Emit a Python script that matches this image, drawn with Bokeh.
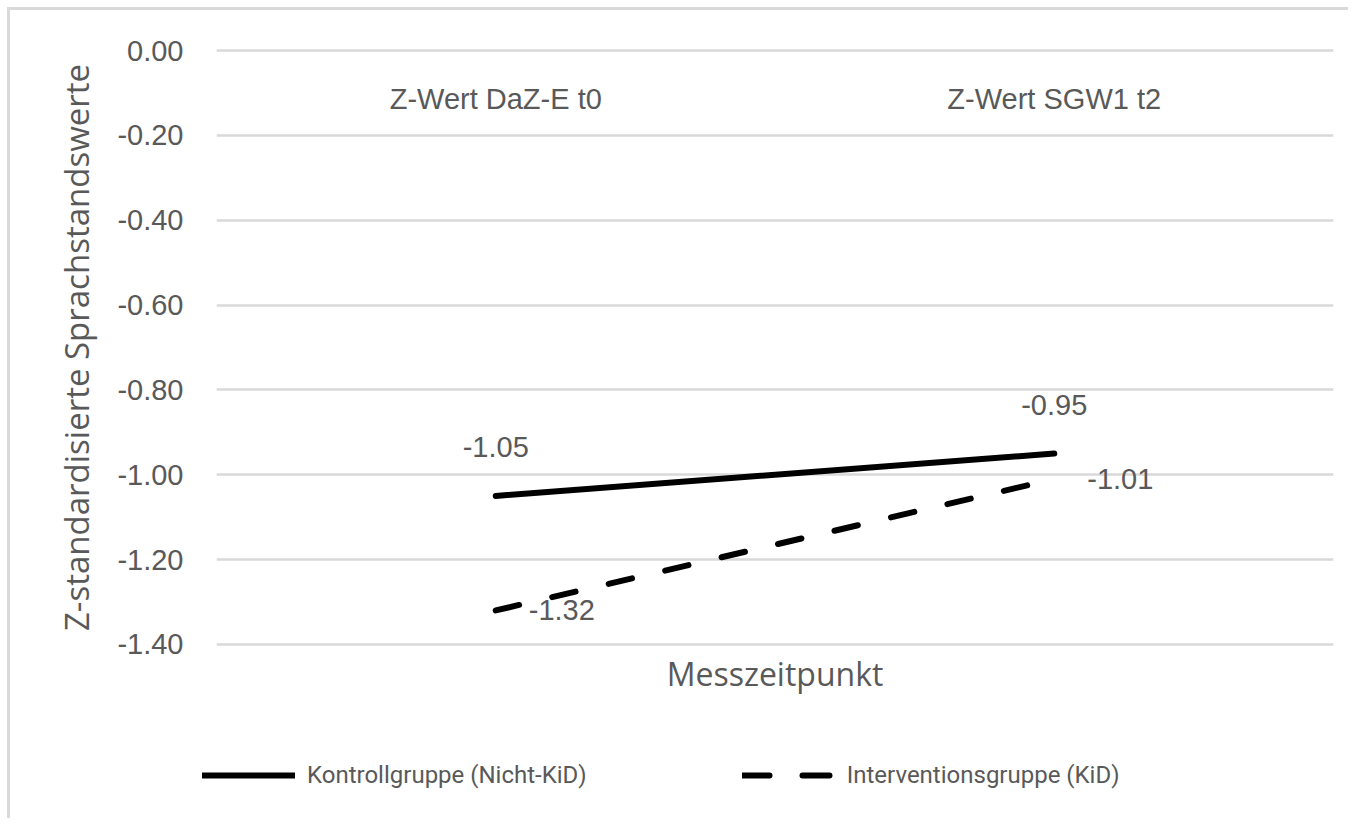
from bokeh.plotting import figure
from bokeh.layouts import column, row
from bokeh.models import (FactorRange, Range1d, FixedTicker, NumeralTickFormatter,
                          Legend, LegendItem, Title)
from bokeh.core.properties import value
from bokeh.embed import file_html
from bokeh.resources import INLINE

# ---- data ----
categories = ["Z-Wert DaZ-E t0", "Z-Wert SGW1 t2"]
kontroll = [-1.05, -0.95]
intervention = [-1.32, -1.01]
series_names = ["Kontrollgruppe (Nicht-KiD)", "Interventionsgruppe (KiD)"]
yticks = [0.0, -0.2, -0.4, -0.6, -0.8, -1.0, -1.2, -1.4]
ytick_labels = ["0.00", "-0.20", "-0.40", "-0.60", "-0.80", "-1.00", "-1.20", "-1.40"]
x_title = "Messzeitpunkt"
y_title = "Z-standardisierte Sprachstandswerte"

TXT = "#595959"
GRID = "#d9d9d9"
NUM_FONT = "Liberation Sans"
TITLE_FONT = "Open Sans"
LEG_FONT = "Roboto"
EPS = 0.005

# ---------------- main chart ----------------
p = figure(width=1338, height=710,
           x_range=FactorRange(*categories, range_padding=0, factor_padding=0),
           y_range=Range1d(min(yticks) - EPS, max(yticks) + EPS),
           x_axis_location=None,
           output_backend="svg", toolbar_location=None,
           min_border_left=206, min_border_right=15,
           min_border_top=38, min_border_bottom=74)
p.outline_line_color = None
p.background_fill_color = "white"
p.border_fill_color = "white"

# y axis
yt = FixedTicker(ticks=yticks)
p.yaxis.ticker = yt
p.yaxis.formatter = NumeralTickFormatter(format="0.00")
p.yaxis.major_label_overrides = {t: l for t, l in zip(yticks, ytick_labels)}
p.yaxis.axis_line_color = None
p.yaxis.major_tick_line_color = None
p.yaxis.minor_tick_line_color = None
p.yaxis.major_tick_out = 0
p.yaxis.major_label_standoff = 33
p.yaxis.major_label_text_font = NUM_FONT
p.yaxis.major_label_text_font_size = "29px"
p.yaxis.major_label_text_color = TXT
p.yaxis.axis_label = y_title
p.yaxis.axis_label_text_font = TITLE_FONT
p.yaxis.axis_label_text_font_size = "33px"
p.yaxis.axis_label_text_font_style = "normal"
p.yaxis.axis_label_text_color = TXT
p.yaxis.axis_label_standoff = 15

# grid
p.xgrid.visible = False
p.ygrid.ticker = yt
p.ygrid.grid_line_color = GRID
p.ygrid.grid_line_width = 2.5

# category labels near the top
p.text(x=categories, y=-0.113, text=categories, text_align="center",
       text_baseline="middle", text_font=value(NUM_FONT), text_font_size="29px",
       text_color=TXT)

# series lines
p.line(x=categories, y=kontroll, line_color="black", line_width=6, line_cap="round")
p.line(x=categories, y=intervention, line_color="black", line_width=6,
       line_cap="round", line_dash="24 34")

# data labels
p.text(x=categories, y=kontroll, text=[f"{v:.2f}" for v in kontroll],
       text_align="center", text_baseline="middle", y_offset=-49,
       text_font=value(NUM_FONT), text_font_size="29px", text_color=TXT)
p.text(x=categories, y=intervention, text=[f"{v:.2f}" for v in intervention],
       text_align="left", text_baseline="middle", x_offset=33,
       text_font=value(NUM_FONT), text_font_size="29px", text_color=TXT)

# x axis title below the plot area
p.add_layout(Title(text=x_title, align="center", text_font=TITLE_FONT,
                   text_font_size="32px", text_font_style="normal",
                   text_color=TXT, standoff=6, offset=0), "below")

# ---------------- legend strip ----------------
p2 = figure(width=1338, height=98,
            x_range=FactorRange(*categories, range_padding=0, factor_padding=0),
            y_range=Range1d(0, 1),
            x_axis_location=None, y_axis_location=None,
            output_backend="svg", toolbar_location=None,
            min_border_left=0, min_border_right=0, min_border_top=0,
            min_border_bottom=0)
p2.outline_line_color = None
p2.grid.visible = False
p2.background_fill_color = "white"
p2.border_fill_color = "white"

# series drawn again here only for their legend swatches (values lie outside this strip's range)
r_leg1 = p2.line(x=categories, y=kontroll, line_color="black", line_width=6,
                 line_cap="round")
r_leg2 = p2.line(x=categories, y=intervention, line_color="black", line_width=6,
                 line_cap="round", line_dash="27 33")

legend = Legend(items=[LegendItem(label=series_names[0], renderers=[r_leg1]),
                       LegendItem(label=series_names[1], renderers=[r_leg2])],
                location=(192, 23), orientation="horizontal",
                padding=0, margin=0, spacing=155, border_line_color=None,
                background_fill_alpha=0, glyph_width=93, glyph_height=40,
                label_height=40, label_standoff=12,
                label_text_font=LEG_FONT, label_text_font_size="24px",
                label_text_color=TXT)
p2.add_layout(legend, "center")

layout = column(p, row(p2), spacing=0)
layout.styles = {"margin": "7px 0 0 7px",
                 "border-left": "3px solid #d9d9d9", "border-top": "3px solid #d9d9d9"}

open("out.html", "w").write(file_html(layout, INLINE))
